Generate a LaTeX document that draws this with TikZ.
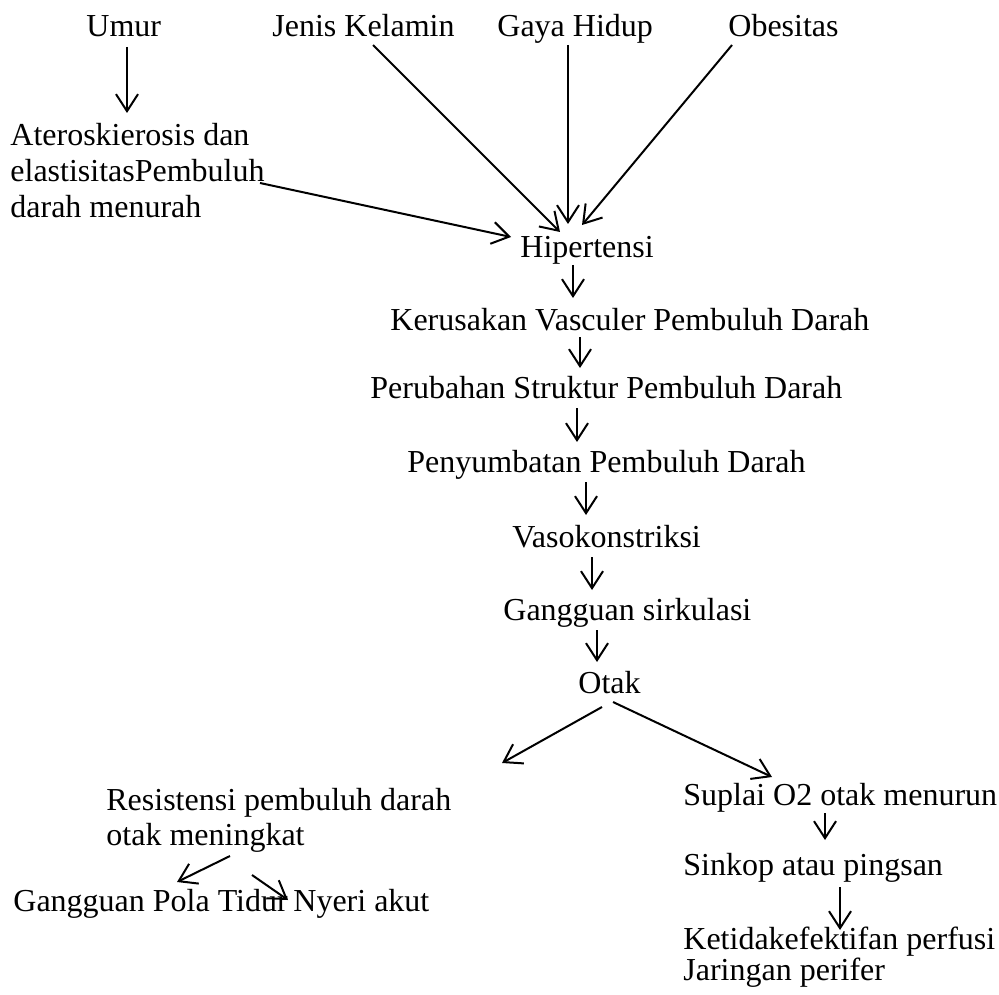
\documentclass[tikz,border=0pt]{standalone}
\usepackage{fontspec}
\setmainfont{Liberation Serif}
\usetikzlibrary{arrows.meta}

\begin{document}
\begin{tikzpicture}[x=0.5pt,y=-0.5pt,
	lbl/.style={inner sep=0pt,anchor=base west,font=\fontsize{16}{18}\selectfont},
	arr/.style={line width=1pt,-{Straight Barb[length=8.5pt,width=11pt]}}]
	\useasboundingbox (0,0) rectangle (999,994);
	\node[lbl] (umur) at (86,37) {Umur};
	\node[lbl] (jk) at (272,37) {Jenis Kelamin};
	\node[lbl] (gaya) at (497,37) {Gaya Hidup};
	\node[lbl] (obes) at (728,37) {Obesitas};
	\node[lbl,align=left] (ater) at (10,218) {Ateroskierosis dan\\elastisitasPembuluh\\darah menurah};
	\node[lbl] (hip) at (520,257) {Hipertensi};
	\node[lbl] (ker) at (390,330) {Kerusakan Vasculer Pembuluh Darah};
	\node[lbl] (per) at (370,398) {Perubahan Struktur Pembuluh Darah};
	\node[lbl] (peny) at (407,472) {Penyumbatan Pembuluh Darah};
	\node[lbl] (vaso) at (512,547) {Vasokonstriksi};
	\node[lbl] (gang) at (503,620) {Gangguan sirkulasi};
	\node[lbl] (otak) at (578,693) {Otak};
	\node[lbl,align=left,font=\fontsize{16}{17.5}\selectfont] (res) at (106,845) {Resistensi pembuluh darah\\otak meningkat};
	\node[lbl] (sup) at (683,805) {Suplai O2 otak menurun};
	\node[lbl] (sink) at (683,875) {Sinkop atau pingsan};
	\node[lbl,align=left,font=\fontsize{16}{15.5}\selectfont] (keti) at (683,980) {Ketidakefektifan perfusi\\Jaringan perifer};
	\node[lbl] (gpt) at (13,911) {Gangguan Pola Tidur};
	\node[lbl] (nyeri) at (293,911) {Nyeri akut};
	\draw[arr] ([shift={(41,10)}]umur.base west) -- ([shift={(117,-105)}]ater.base west);
	\draw[arr] ([shift={(250,-35)}]ater.base west) -- ([shift={(-9,-20)}]hip.base west);
	\draw[arr] ([shift={(101,8)}]jk.base west) -- ([shift={(40,-25)}]hip.base west);
	\draw[arr] ([shift={(71,8)}]gaya.base west) -- ([shift={(48,-33)}]hip.base west);
	\draw[arr] ([shift={(4,8)}]obes.base west) -- ([shift={(62,-32)}]hip.base west);
	\draw[arr] ([shift={(53,8)}]hip.base west) -- ([shift={(183,-32)}]ker.base west);
	\draw[arr] ([shift={(190,7)}]ker.base west) -- ([shift={(210,-30)}]per.base west);
	\draw[arr] ([shift={(207,10)}]per.base west) -- ([shift={(170,-30)}]peny.base west);
	\draw[arr] ([shift={(179,10)}]peny.base west) -- ([shift={(74,-32)}]vaso.base west);
	\draw[arr] ([shift={(80,10)}]vaso.base west) -- ([shift={(89,-30)}]gang.base west);
	\draw[arr] ([shift={(94,10)}]gang.base west) -- ([shift={(19,-31)}]otak.base west);
	\draw[arr] ([shift={(24,14)}]otak.base west) -- ([shift={(396,-82)}]res.base west);
	\draw[arr] ([shift={(35,9)}]otak.base west) -- ([shift={(89,-28)}]sup.base west);
	\draw[arr] ([shift={(142,8)}]sup.base west) -- ([shift={(142,-35)}]sink.base west);
	\draw[arr] ([shift={(157,12)}]sink.base west) -- ([shift={(157,-50)}]keti.base west);
	\draw[arr] ([shift={(124,11)}]res.base west) -- ([shift={(164,-29)}]gpt.base west);
	\draw[arr] ([shift={(146,30)}]res.base west) -- ([shift={(-5,-11)}]nyeri.base west);
\end{tikzpicture}
\end{document}
